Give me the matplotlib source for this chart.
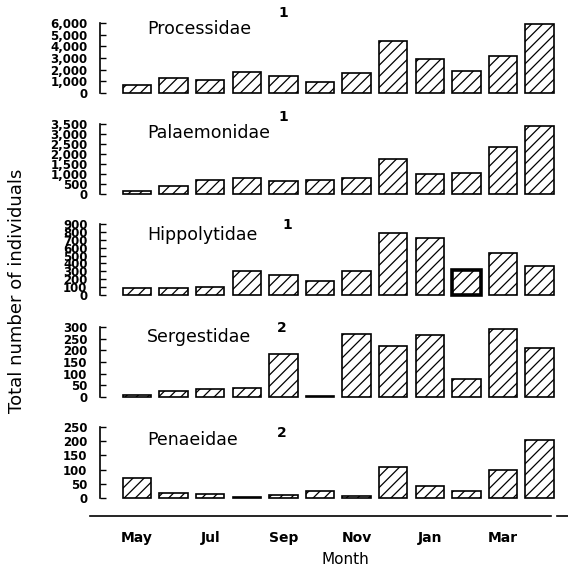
import matplotlib.pyplot as plt
import numpy as np
from matplotlib.ticker import StrMethodFormatter
from matplotlib.lines import Line2D

# data
months = ['May', 'Jun', 'Jul', 'Aug', 'Sep', 'Oct', 'Nov', 'Dec', 'Jan', 'Feb', 'Mar', 'Apr']
families = ['Processidae', 'Palaemonidae', 'Hippolytidae', 'Sergestidae', 'Penaeidae']
notes = ['1', '1', '1', '2', '2']

processidae = [650, 1250, 1150, 1800, 1490, 970, 1710, 4430, 2910, 1860, 3140, 5910]
palaemonidae = [170, 380, 680, 820, 630, 720, 780, 1750, 980, 1050, 2330, 3380]
hippolytidae = [83, 95, 103, 302, 248, 182, 310, 785, 723, 318, 537, 372]
sergestidae = [10, 26, 36, 39, 184, 5, 271, 219, 265, 78, 290, 212]
penaeidae = [72, 16, 15, 5, 10, 24, 7, 110, 41, 24, 97, 205]

series = [processidae, palaemonidae, hippolytidae, sergestidae, penaeidae]
ymax = [6000, 3500, 900, 300, 250]
ystep = [1000, 500, 100, 50, 50]

plt.rcParams['hatch.linewidth'] = 0.9

W, H = 568, 567
fig = plt.figure(figsize=(W / 100, H / 100), dpi=100)

# pixel layout
x0, x1 = 100, 558
c0, dx = 137, 36.6
xlim = ((x0 - c0) / dx, (x1 - c0) / dx)
panels = [(93, 23), (194, 124), (295, 224), (397, 327), (498, 427)]
title_y = [29, 133, 235, 337, 440]
sup_xy = [(283, 13), (283, 117), (287, 225), (282, 328), (282, 433)]

x = np.arange(len(months))
for i, vals in enumerate(series):
    zero, top = panels[i]
    ax = fig.add_axes([x0 / W, 1 - zero / H, (x1 - x0) / W, (zero - top) / H])
    bars = ax.bar(x, vals, width=0.78, color='white', edgecolor='black',
                  linewidth=1.2, hatch='///', clip_on=False)
    if families[i] == 'Hippolytidae':
        bars[9].set_linewidth(2.6)
    ax.set_xlim(*xlim)
    ax.set_ylim(0, ymax[i])
    ax.set_yticks(np.arange(0, ymax[i] + 1, ystep[i]))
    ax.yaxis.set_major_formatter(StrMethodFormatter('{x:,.0f}'))
    ax.tick_params(axis='y', direction='in', length=4, width=1, pad=9,
                   labelsize=8.5)
    for lab in ax.get_yticklabels():
        lab.set_fontweight('bold')
    ax.set_xticks([])
    for s in ['top', 'right', 'bottom']:
        ax.spines[s].set_visible(False)
    ax.spines['left'].set_linewidth(1.2)
    ax.patch.set_alpha(0)

    fig.text(147 / W, 1 - title_y[i] / H, families[i], fontsize=12.5,
             va='center', ha='left')
    sx, sy = sup_xy[i]
    fig.text(sx / W, 1 - sy / H, notes[i], fontsize=10, fontweight='bold',
             ha='center', va='center')

# month axis
ml, mr = 90, 568
axm = fig.add_axes([ml / W, 1 - 516 / H, (mr - ml) / W, 0.001])
axm.set_xlim((ml - c0) / dx, (mr - c0) / dx)
axm.set_yticks([])
axm.set_xticks(x[::2])
axm.set_xticklabels(months[::2], fontsize=10, fontweight='bold')
axm.tick_params(axis='x', length=0, pad=11)
for s in axm.spines.values():
    s.set_visible(False)
axm.patch.set_alpha(0)

fig.add_artist(Line2D([90 / W, 551 / W], [1 - 516 / H] * 2, color='black', lw=1.2))
fig.add_artist(Line2D([557 / W, 1.0], [1 - 516 / H] * 2, color='black', lw=1.2))

fig.text(345 / W, 1 - 559 / H, 'Month', fontsize=11, ha='center', va='center')
fig.text(17 / W, 1 - 291 / H, 'Total number of individuals', fontsize=13,
         rotation=90, ha='center', va='center')

fig.savefig('out.png', dpi=100)
